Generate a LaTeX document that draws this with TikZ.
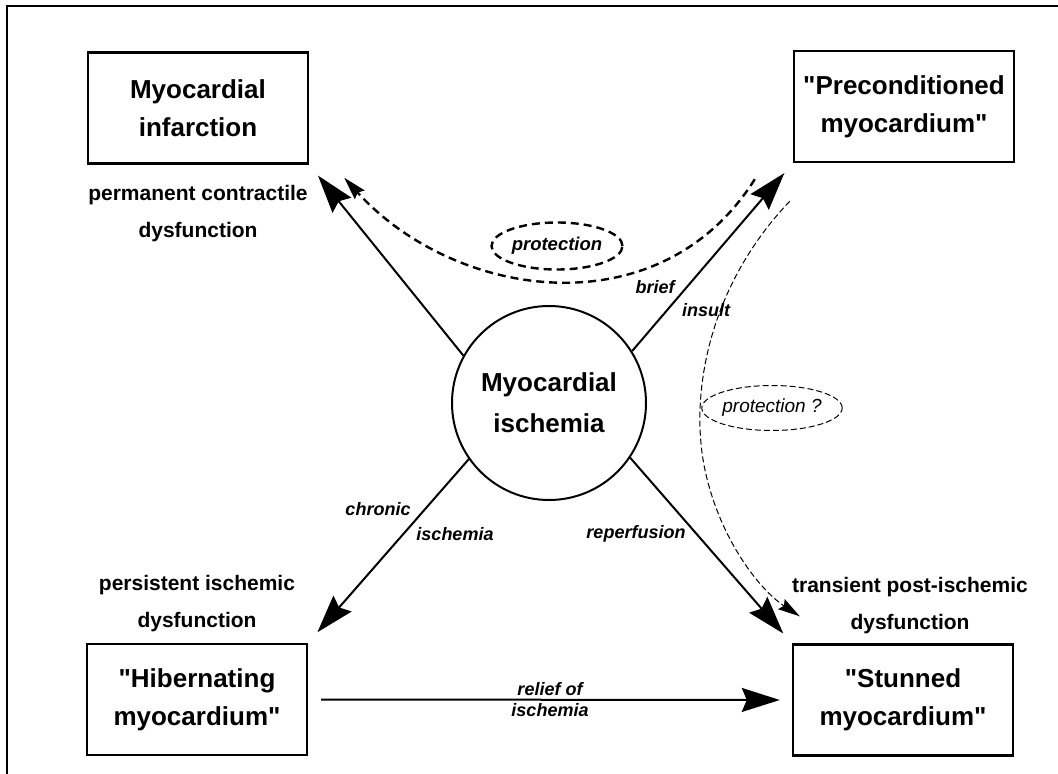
\documentclass[tikz,border=0pt]{standalone}
\usepackage{fontspec}
\setmainfont{Liberation Sans}[Ligatures=TeXOff]
\usetikzlibrary{
  arrows.meta,
  positioning,
  calc,
  shapes.geometric
}
\tikzset{
  % Outcome box: fixed size, bold text
  outbox/.style={
    rectangle, draw, line width=2.4pt,
    minimum width=220pt, minimum height=111pt,
    align=center, font=\fontsize{26}{38}\selectfont\bfseries
  },
  % Central circle
  core/.style={
    circle, draw, line width=2pt, minimum size=194pt,
    align=center, font=\fontsize{26}{41}\selectfont\bfseries
  },
  % Dysfunction text under/over a box
  desc/.style={
    inner sep=0pt, align=center,
    font=\fontsize{21}{37}\selectfont\bfseries
  },
  % Arrow label
  lbl/.style={inner sep=2pt, font=\fontsize{18}{22}\selectfont\bfseries\itshape},
  % Solid arrow
  arr/.style={
    -{Stealth[length=38pt,width=24pt,inset=5pt]},
    line width=2pt
  },
  % Dashed arrows
  protarr/.style={
    -{Stealth[length=23pt,width=13pt,inset=3pt]},
    line width=2.4pt, dash pattern=on 8pt off 5pt
  },
  maybearr/.style={
    -{Stealth[length=22pt,width=12pt,inset=3pt]},
    line width=1pt, dash pattern=on 6pt off 3pt
  },
  % Dashed ellipse tags
  tag/.style={
    ellipse, draw, line width=2.4pt, dash pattern=on 8pt off 5pt,
    minimum width=131pt, minimum height=47pt, inner sep=0pt,
    font=\fontsize{18.5}{22}\selectfont\bfseries\itshape
  },
  maybetag/.style={
    ellipse, draw, line width=1pt, dash pattern=on 6pt off 3pt,
    minimum width=132pt, minimum height=45pt, inner sep=0pt,
    font=\fontsize{19}{22}\selectfont\itshape
  }
}

\begin{document}
\begin{tikzpicture}[x=1pt, y=-1pt]
  \useasboundingbox (0,0) rectangle (1058,774);
  % frame (cropped: top and left only)
  \draw[line width=1.5pt] (1058,6) -- (7,6) -- (7,774);

  % Boxes and circle
  \node[outbox] (mi)   at (198,108)   {Myocardial\\infarction};
  \node[outbox] (pre)  at (904,106.5) {"Preconditioned\\myocardium"};
  \node[outbox] (hib)  at (197,699.5) {"Hibernating\\myocardium"};
  \node[outbox] (stun) at (903,700)   {"Stunned\\myocardium"};
  \node[core]   (isch) at (549,403)   {Myocardial\\ischemia};

  % Dysfunction texts
  \node[desc, below=20pt of mi]              (perm)  {permanent contractile\\dysfunction};
  \node[desc, above=11pt of hib]             (pers)  {persistent ischemic\\dysfunction};
  \node[desc, above=9pt of stun, xshift=7pt] (trans) {transient post-ischemic\\dysfunction};

  % Solid arrows
  \draw[arr, shorten >=14pt] (isch.151) -- (mi.south east);
  \draw[arr, shorten >=13pt] (isch.32)  -- (pre.south west);
  \draw[arr, shorten >=14pt] (isch.215) -- (hib.north east);
  \draw[arr, shorten >=13pt] (isch.326) -- (stun.north west);
  \draw[arr, shorten <=13pt, shorten >=12pt] (hib.east) -- (stun.west)
    node[lbl, midway, above, yshift=1pt] (relief) {relief of}
    node[lbl, midway, below, yshift=-1pt] (relief2) {ischemia};

  % Arrow labels
  \node[lbl] (brief)   at (655,287) {brief};
  \node[lbl] (insult)  at (706,310) {insult};
  \node[lbl] (chronic) at (378,509) {chronic};
  \node[lbl] (chisch)  at (455,534) {ischemia};
  \node[lbl] (reperf)  at (636,534) {reperfusion};

  % Protection paths
  \coordinate (protStart) at ($(pre.south west)+(-38,16)$);
  \coordinate (protTip)   at ($(mi.south east)+(35,13)$);
  \draw[protarr] (protStart) .. controls (660,330) and (455,300) .. (protTip);
  \node[tag] (prot) at (557,246) {protection};

  \coordinate (maybeStart) at ($(pre.south west)+(-3,38)$);
  \coordinate (maybeTip)   at ($(stun.north west)+(8,-27)$);
  \draw[maybearr] (maybeStart) .. controls (705,290) and (690,400) .. (705,470)
    .. controls (720,540) and (760,590) .. (maybeTip);
  \node[maybetag] (maybe) at (772,408) {protection ?};
\end{tikzpicture}
\end{document}
